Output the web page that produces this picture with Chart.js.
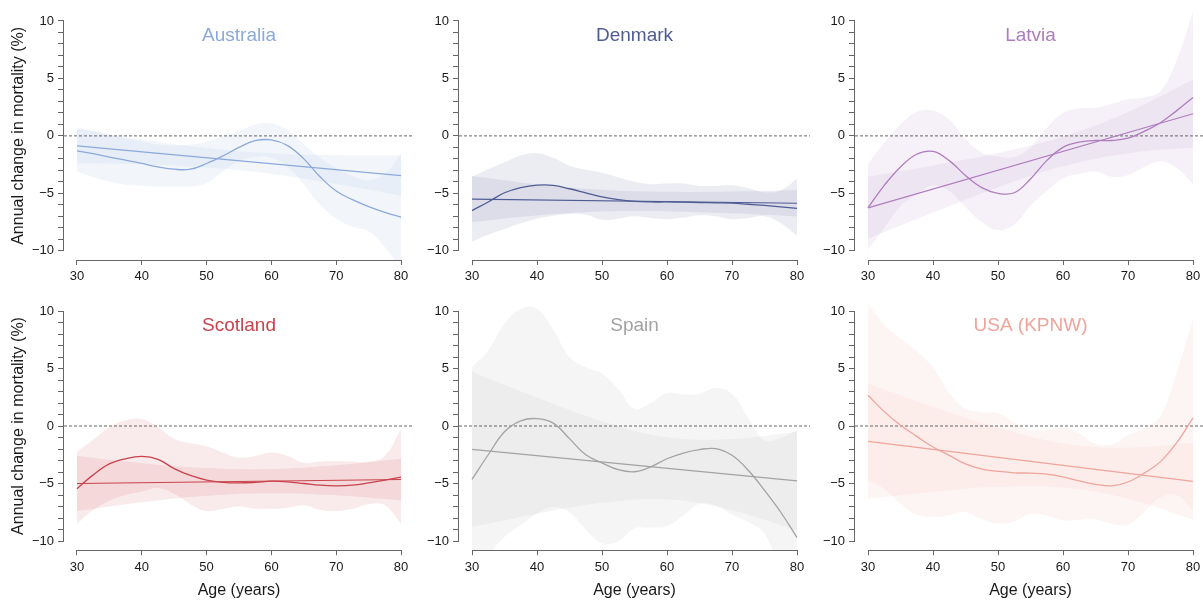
<!DOCTYPE html>
<html>
<head>
<meta charset="utf-8">
<title>Annual change in mortality by age</title>
<script src="https://cdn.jsdelivr.net/npm/chart.js@4.4.1/dist/chart.umd.min.js"></script>
<style>
  html, body { margin: 0; padding: 0; background: #ffffff; overflow: hidden; width: 1203px; height: 603px; }
  canvas { position: absolute; }
</style>
</head>
<body>
<script>
// Age grid for the smooth (spline) fits and their intervals
const ages = [30, 32.5, 35, 37.5, 40, 42.5, 45, 47.5, 50, 52.5, 55, 57.5, 60, 62.5, 65, 67.5, 70, 72.5, 75, 77.5, 80];
// Age grid for the linear-fit intervals
const lineAges = [30, 40, 50, 60, 70, 80];
// End points of the linear fits
const lineEnds = [30, 80];
// Axis ticks
const ageTicks = [30, 40, 50, 60, 70, 80];
const changeTicks = [-10, -9, -8, -7, -6, -5, -4, -3, -2, -1, 0, 1, 2, 3, 4, 5, 6, 7, 8, 9, 10];

// Australia
const ausSpline = [-1.3, -1.55, -1.85, -2.1, -2.4, -2.7, -2.9, -2.9, -2.4, -1.75, -1.0, -0.42, -0.35, -0.85, -2.0, -3.55, -4.8, -5.55, -6.15, -6.65, -7.07];
const ausUpper = [0.7, 0.45, 0.1, -0.2, -0.5, -0.75, -0.85, -0.75, -0.5, -0.05, 0.4, 1.0, 1.1, 0.5, -0.7, -1.9, -2.8, -3.5, -3.85, -3.3, -1.5];
const ausLower = [-3.1, -3.6, -4.0, -4.25, -4.35, -4.4, -4.4, -4.4, -4.1, -3.1, -2.2, -1.85, -1.9, -2.7, -4.2, -6.0, -7.2, -7.9, -8.3, -9.7, -11.5];
const ausLinear = [-0.87, -3.46];
const ausLinUpper = [0.63, -0.29, -1.06, -1.52, -1.69, -1.71];
const ausLinLower = [-2.37, -2.49, -2.76, -3.32, -4.19, -5.21];

// Denmark
const denSpline = [-6.5, -5.75, -4.95, -4.5, -4.28, -4.3, -4.6, -4.95, -5.3, -5.55, -5.7, -5.75, -5.75, -5.77, -5.8, -5.82, -5.85, -5.95, -6.05, -6.17, -6.3];
const denUpper = [-3.55, -2.9, -2.3, -1.7, -1.5, -1.9, -2.6, -2.95, -3.2, -3.6, -4.0, -4.2, -4.15, -4.15, -4.35, -4.35, -4.3, -4.55, -4.9, -4.75, -3.7];
const denLower = [-9.2, -8.6, -8.1, -7.6, -7.2, -6.95, -6.8, -6.85, -7.3, -7.2, -7.0, -7.15, -7.25, -7.1, -6.9, -7.0, -7.25, -7.15, -7.0, -7.6, -8.7];
const denLinear = [-5.5, -5.86];
const denLinUpper = [-3.5, -4.22, -4.69, -4.87, -4.84, -4.71];
const denLinLower = [-7.5, -6.92, -6.59, -6.57, -6.74, -7.01];

// Latvia
const latSpline = [-6.26, -4.3, -2.7, -1.6, -1.35, -2.15, -3.45, -4.5, -5.0, -4.95, -3.75, -2.15, -1.0, -0.55, -0.4, -0.4, -0.2, 0.4, 1.15, 2.2, 3.35];
const latUpper = [-2.45, -0.6, 1.0, 2.1, 2.2, 1.4, -0.3, -1.45, -1.8, -1.85, -1.0, 0.7, 2.0, 2.4, 2.45, 2.8, 3.2, 3.35, 3.9, 6.6, 10.8];
const latLower = [-9.9, -8.0, -6.1, -5.1, -4.3, -4.8, -6.2, -7.5, -8.2, -7.7, -6.1, -4.8, -3.7, -3.3, -3.1, -3.55, -3.4, -2.7, -2.2, -2.8, -4.2];
const latLinear = [-6.26, 1.93];
const latLinUpper = [-3.56, -2.57, -1.48, -0.05, 2.09, 4.88];
const latLinLower = [-8.96, -6.67, -4.48, -2.65, -1.51, -1.02];

// Scotland
const scoSpline = [-5.45, -4.25, -3.3, -2.85, -2.65, -2.9, -3.7, -4.3, -4.7, -4.9, -4.95, -4.9, -4.8, -4.85, -5.0, -5.15, -5.2, -5.15, -4.95, -4.7, -4.45];
const scoUpper = [-2.25, -1.2, -0.1, 0.5, 0.6, -0.1, -1.1, -1.5, -1.75, -2.3, -2.75, -2.6, -2.3, -2.6, -3.2, -3.1, -3.05, -3.1, -3.1, -2.6, -0.25];
const scoLower = [-8.5, -7.3, -6.5, -6.0, -5.7, -5.4, -5.9, -6.8, -7.4, -7.2, -7.0, -7.2, -7.2, -7.1, -6.9, -7.3, -7.4, -7.2, -6.8, -6.9, -8.5];
const scoLinear = [-5.0, -4.65];
const scoLinUpper = [-2.6, -3.23, -3.66, -3.74, -3.42, -2.85];
const scoLinLower = [-7.4, -6.63, -6.06, -5.84, -6.02, -6.45];

// Spain
const spaSpline = [-4.64, -2.5, -0.5, 0.45, 0.64, 0.25, -1.1, -2.5, -3.2, -3.8, -3.98, -3.55, -2.85, -2.35, -2.05, -1.97, -2.55, -3.85, -5.6, -7.5, -9.7];
const spaUpper = [5.1, 6.6, 8.9, 10.2, 10.2, 8.4, 6.0, 5.1, 4.55, 3.2, 1.5, 2.0, 2.85, 2.75, 2.8, 3.3, 2.8, 0.7, -1.25, -1.05, -0.4];
const spaLower = [-14.0, -11.3, -9.65, -8.6, -7.6, -7.05, -7.5, -9.0, -10.2, -10.05, -8.9, -8.85, -8.7, -7.8, -6.75, -6.9, -7.7, -8.35, -9.35, -13.0, -18.0];
const spaLinear = [-2.03, -4.78];
const spaLinUpper = [4.72, 2.47, 0.42, -0.98, -1.13, -0.48];
const spaLinLower = [-8.78, -7.63, -6.68, -6.38, -7.33, -9.08];

// USA (KPNW)
const usaSpline = [2.67, 1.25, 0.06, -0.9, -1.83, -2.55, -3.3, -3.75, -3.94, -4.07, -4.1, -4.18, -4.43, -4.78, -5.07, -5.2, -4.87, -4.1, -3.1, -1.45, 0.7];
const usaUpper = [10.6, 8.8, 7.6, 6.5, 5.1, 2.9, 1.5, 1.2, 1.1, 0.3, -0.4, -0.35, -0.1, -0.65, -1.55, -1.6, -0.8, -0.2, 0.9, 4.7, 9.3];
const usaLower = [-4.7, -5.45, -6.75, -7.7, -7.9, -7.75, -7.5, -8.1, -8.5, -8.3, -7.65, -7.8, -8.2, -8.15, -8.1, -8.5, -8.6, -7.45, -6.2, -6.0, -7.35];
const usaLinear = [-1.33, -4.81];
const usaLinUpper = [3.67, 1.67, -0.15, -1.49, -1.89, -1.46];
const usaLinLower = [-6.33, -5.73, -5.29, -5.35, -6.33, -8.16];

const panels = [
  { name: 'Australia',  color: '#8DA9DB', spline: ausSpline, upper: ausUpper, lower: ausLower, linear: ausLinear, linUpper: ausLinUpper, linLower: ausLinLower },
  { name: 'Denmark',    color: '#505C94', spline: denSpline, upper: denUpper, lower: denLower, linear: denLinear, linUpper: denLinUpper, linLower: denLinLower },
  { name: 'Latvia',     color: '#AF7DBF', spline: latSpline, upper: latUpper, lower: latLower, linear: latLinear, linUpper: latLinUpper, linLower: latLinLower },
  { name: 'Scotland',   color: '#C8434D', spline: scoSpline, upper: scoUpper, lower: scoLower, linear: scoLinear, linUpper: scoLinUpper, linLower: scoLinLower },
  { name: 'Spain',      color: '#A3A3A3', spline: spaSpline, upper: spaUpper, lower: spaLower, linear: spaLinear, linUpper: spaLinUpper, linLower: spaLinLower },
  { name: 'USA (KPNW)', color: '#F0A49C', spline: usaSpline, upper: usaUpper, lower: usaLower, linear: usaLinear, linUpper: usaLinUpper, linLower: usaLinLower }
];

const FONT = "'Liberation Sans', Arial, Helvetica, sans-serif";
const AXIS_W = 64;
// Plot regions (page pixels) of the three columns and two rows
const cols = [{ left: 64, right: 414 }, { left: 459, right: 810 }, { left: 855, right: 1206 }];
const rows = [{ top: 0, height: 290, areaTop: 10, areaBottom: 260 }, { top: 290, height: 313, areaTop: 301.8, areaBottom: 550.2 }];

function withAlpha(hex, a) {
  const n = parseInt(hex.slice(1), 16);
  return `rgba(${(n >> 16) & 255}, ${(n >> 8) & 255}, ${n & 255}, ${a})`;
}
function points(xs, ys) { return xs.map((x, k) => ({ x: x, y: ys[k] })); }
function fmtTick(v) { return v < 0 ? '\u2212' + Math.abs(v) : String(v); }

// Axis lines spanning only the labelled range
const axisLines = {
  id: 'axisLines',
  afterDraw(chart) {
    const { ctx, chartArea, scales } = chart;
    const x = scales.x, y = scales.y;
    ctx.save();
    ctx.strokeStyle = '#666666';
    ctx.lineWidth = 1;
    ctx.beginPath();
    const yb = Math.round(chartArea.bottom) + 0.5;
    ctx.moveTo(x.getPixelForValue(ageTicks[0]), yb);
    ctx.lineTo(x.getPixelForValue(ageTicks[ageTicks.length - 1]), yb);
    const xl = Math.round(chartArea.left) - 0.5;
    ctx.moveTo(xl, y.getPixelForValue(changeTicks[0]));
    ctx.lineTo(xl, y.getPixelForValue(changeTicks[changeTicks.length - 1]));
    ctx.stroke();
    ctx.restore();
  }
};

// Country name inside the top of each panel
const panelName = {
  id: 'panelName',
  afterDraw(chart, args, opts) {
    const { ctx, chartArea } = chart;
    ctx.save();
    ctx.font = `19px ${FONT}`;
    ctx.fillStyle = opts.color;
    ctx.textAlign = 'center';
    ctx.textBaseline = 'middle';
    ctx.fillText(opts.text, (chartArea.left + chartArea.right) / 2, chartArea.top + 24);
    ctx.restore();
  }
};

panels.forEach((p, i) => {
  const col = cols[i % 3];
  const row = rows[Math.floor(i / 3)];
  const w = AXIS_W + (col.right - col.left);
  const canvas = document.createElement('canvas');
  canvas.width = w;
  canvas.height = row.height;
  canvas.style.left = (col.left - AXIS_W) + 'px';
  canvas.style.top = row.top + 'px';
  canvas.style.width = w + 'px';
  canvas.style.height = row.height + 'px';
  document.body.appendChild(canvas);

  const band = withAlpha(p.color, 0.11);
  const none = 'rgba(0,0,0,0)';

  new Chart(canvas, {
    type: 'line',
    data: {
      datasets: [
        { data: points(ages, p.spline), borderColor: p.color, borderWidth: 1.3, tension: 0.4, order: 0 },
        { data: points(lineEnds, p.linear), borderColor: p.color, borderWidth: 1.2, order: 0 },
        { data: [{ x: 28, y: 0 }, { x: 82, y: 0 }], borderColor: '#666666', borderWidth: 1, borderDash: [3, 2], order: 1 },
        { data: points(ages, p.upper), borderColor: none, borderWidth: 0, backgroundColor: band, fill: '+1', tension: 0.4, order: 2 },
        { data: points(ages, p.lower), borderColor: none, borderWidth: 0, tension: 0.4, order: 2 },
        { data: points(lineAges, p.linUpper), borderColor: none, borderWidth: 0, backgroundColor: band, fill: '+1', tension: 0.4, order: 3 },
        { data: points(lineAges, p.linLower), borderColor: none, borderWidth: 0, tension: 0.4, order: 3 }
      ]
    },
    options: {
      responsive: false,
      animation: false,
      devicePixelRatio: 1,
      events: [],
      layout: { padding: { top: row.areaTop - row.top, left: 0, right: 0, bottom: 0 } },
      elements: { point: { radius: 0 }, line: { tension: 0, capBezierPoints: false } },
      plugins: {
        legend: { display: false },
        tooltip: { enabled: false },
        panelName: { text: p.name, color: p.color }
      },
      scales: {
        x: {
          type: 'linear', min: 28, max: 82,
          afterBuildTicks: s => { s.ticks = ageTicks.map(v => ({ value: v })); },
          afterFit: s => { s.height = row.top + row.height - row.areaBottom; },
          border: { display: false },
          grid: { drawOnChartArea: false, drawTicks: true, tickLength: 5, color: '#666666' },
          ticks: { font: { size: 13, family: FONT }, color: '#1a1a1a', padding: 4, maxRotation: 0, autoSkip: false },
          title: { display: i >= 3, text: 'Age (years)', font: { size: 16, family: FONT }, color: '#1a1a1a', padding: { top: 0, bottom: 3 } }
        },
        y: {
          type: 'linear', min: -10.8, max: 10.8,
          afterBuildTicks: s => { s.ticks = changeTicks.map(v => ({ value: v })); },
          afterFit: s => { s.width = AXIS_W; },
          border: { display: false },
          grid: { drawOnChartArea: false, drawTicks: true, tickLength: 6, color: '#666666' },
          ticks: { font: { size: 13, family: FONT }, color: '#1a1a1a', padding: 4, autoSkip: false,
                   callback: v => (v % 5 === 0 ? fmtTick(v) : '') },
          title: { display: i % 3 === 0, text: 'Annual change in mortality (%)', font: { size: 16, family: FONT }, color: '#1a1a1a', padding: { top: 9, bottom: 0 } }
        }
      }
    },
    plugins: [axisLines, panelName]
  });
});
</script>
</body>
</html>
